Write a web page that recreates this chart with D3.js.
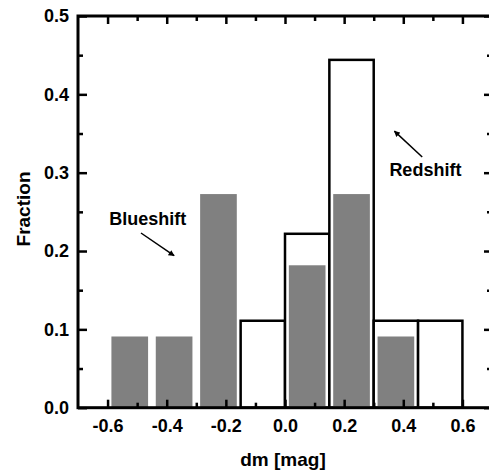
<!DOCTYPE html>
<html lang="en">
<head>
<meta charset="utf-8">
<title>Fraction vs dm</title>
<script src="https://d3js.org/d3.v7.min.js"></script>
<style>
  body { margin: 0; background: #fff; }
  svg text { font-family: "Liberation Sans", Arial, sans-serif; font-weight: bold; fill: #000; }
</style>
</head>
<body>
<div id="chart"></div>
<script type="text/javascript">
	// histogram data, bin centres in mag
	var binCenters = [-0.525, -0.375, -0.225, -0.075, 0.075, 0.225, 0.375, 0.525],
		openFrac = [0, 0, 0, 0.111, 0.222, 0.444, 0.111, 0.111],
		grayFrac = [0.0909, 0.0909, 0.2727, 0, 0.1818, 0.2727, 0.0909, 0],
		binWidth = 0.15,
		grayWidth = 0.124;

	var xMajor = [-0.6, -0.4, -0.2, 0.0, 0.2, 0.4, 0.6],
		xMinor = [-0.5, -0.3, -0.1, 0.1, 0.3, 0.5],
		yMajor = [0, 0.1, 0.2, 0.3, 0.4, 0.5],
		yMinor = [0.05, 0.15, 0.25, 0.35, 0.45];

	// annotations (data coords)
	var notes = [
		{text: "Blueshift", x: -0.594, y: 0.233, from: [-0.487, 0.223], to: [-0.375, 0.194]},
		{text: "Redshift", x: 0.353, y: 0.296, from: [0.464, 0.320], to: [0.370, 0.353]}
	];

	var W = 489, H = 472;
	var margin = {top: 16, left: 78},
		width = 414,
		height = 391.7;

	var svg = d3.select("#chart").append("svg")
		.attr("width", W)
		.attr("height", H);

	var g = svg.append("g")
		.attr("transform", "translate(" + margin.left + "," + margin.top + ")");

	var x = d3.scaleLinear().domain([-0.7, 0.7]).range([0, width]);
	var y = d3.scaleLinear().domain([0, 0.5]).range([height, 0]);

	// plain hyphen instead of the unicode minus
	var fmt = function(d) { return d3.format(".1f")(d).replace("\u2212", "-"); };

	// open bars
	g.selectAll(".open")
		.data(binCenters.filter(function(d, i) { return openFrac[i] > 0; }))
		.enter().append("rect")
		.attr("class", "open")
		.attr("x", function(d) { return x(d - binWidth / 2); })
		.attr("width", function(d) { return x(d + binWidth / 2) - x(d - binWidth / 2); })
		.attr("y", function(d) { return y(openFrac[binCenters.indexOf(d)]); })
		.attr("height", function(d) { return y(0) - y(openFrac[binCenters.indexOf(d)]); })
		.attr("fill", "#fff")
		.attr("stroke", "#000")
		.attr("stroke-width", 2.5);

	// gray bars on top
	g.selectAll(".gray")
		.data(binCenters.filter(function(d, i) { return grayFrac[i] > 0; }))
		.enter().append("rect")
		.attr("class", "gray")
		.attr("x", function(d) { return x(d - grayWidth / 2); })
		.attr("width", function(d) { return x(d + grayWidth / 2) - x(d - grayWidth / 2); })
		.attr("y", function(d) { return y(grayFrac[binCenters.indexOf(d)]); })
		.attr("height", function(d) { return y(0) - y(grayFrac[binCenters.indexOf(d)]); })
		.attr("fill", "#808080");

	// axes: inward ticks on all four sides
	function styleAxis(sel) {
		sel.select(".domain").remove();
		sel.selectAll("line").attr("stroke", "#000").attr("stroke-width", 2.5);
		sel.selectAll("text").style("font-size", "18px");
	}

	g.append("g").attr("transform", "translate(0," + height + ")")
		.call(d3.axisBottom(x).tickValues(xMajor).tickSize(-8).tickPadding(12).tickFormat(fmt))
		.call(styleAxis);
	g.append("g").attr("transform", "translate(0," + height + ")")
		.call(d3.axisBottom(x).tickValues(xMinor).tickSize(-5).tickFormat(""))
		.call(styleAxis);
	g.append("g")
		.call(d3.axisTop(x).tickValues(xMajor).tickSize(-8).tickFormat(""))
		.call(styleAxis);
	g.append("g")
		.call(d3.axisTop(x).tickValues(xMinor).tickSize(-5).tickFormat(""))
		.call(styleAxis);

	g.append("g")
		.call(d3.axisLeft(y).tickValues(yMajor).tickSize(-9).tickPadding(9).tickFormat(fmt))
		.call(styleAxis);
	g.append("g")
		.call(d3.axisLeft(y).tickValues(yMinor).tickSize(-5).tickFormat(""))
		.call(styleAxis);
	g.append("g").attr("transform", "translate(" + width + ",0)")
		.call(d3.axisRight(y).tickValues(yMajor).tickSize(-8).tickFormat(""))
		.call(styleAxis);
	g.append("g").attr("transform", "translate(" + width + ",0)")
		.call(d3.axisRight(y).tickValues(yMinor).tickSize(-5).tickFormat(""))
		.call(styleAxis);

	// frame
	g.append("rect")
		.attr("width", width)
		.attr("height", height)
		.attr("fill", "none")
		.attr("stroke", "#000")
		.attr("stroke-width", 3);

	// axis titles
	svg.append("text")
		.attr("x", 283)
		.attr("y", 466)
		.attr("text-anchor", "middle")
		.style("font-size", "19px")
		.text("dm [mag]");

	svg.append("text")
		.attr("transform", "translate(30,209) rotate(-90)")
		.attr("text-anchor", "middle")
		.style("font-size", "19px")
		.text("Fraction");

	// arrowhead
	svg.append("defs").append("marker")
		.attr("id", "head")
		.attr("viewBox", "0 0 10 10")
		.attr("refX", 9)
		.attr("refY", 5)
		.attr("markerWidth", 7)
		.attr("markerHeight", 6)
		.attr("markerUnits", "userSpaceOnUse")
		.attr("orient", "auto")
		.append("path")
		.attr("d", "M0,0L10,5L0,10z")
		.attr("fill", "#000");

	notes.forEach(function(n) {
		g.append("text")
			.attr("x", x(n.x))
			.attr("y", y(n.y))
			.style("font-size", "18px")
			.text(n.text);
		g.append("line")
			.attr("x1", x(n.from[0]))
			.attr("y1", y(n.from[1]))
			.attr("x2", x(n.to[0]))
			.attr("y2", y(n.to[1]))
			.attr("stroke", "#000")
			.attr("stroke-width", 1.5)
			.attr("marker-end", "url(#head)");
	});
</script>
</body>
</html>
